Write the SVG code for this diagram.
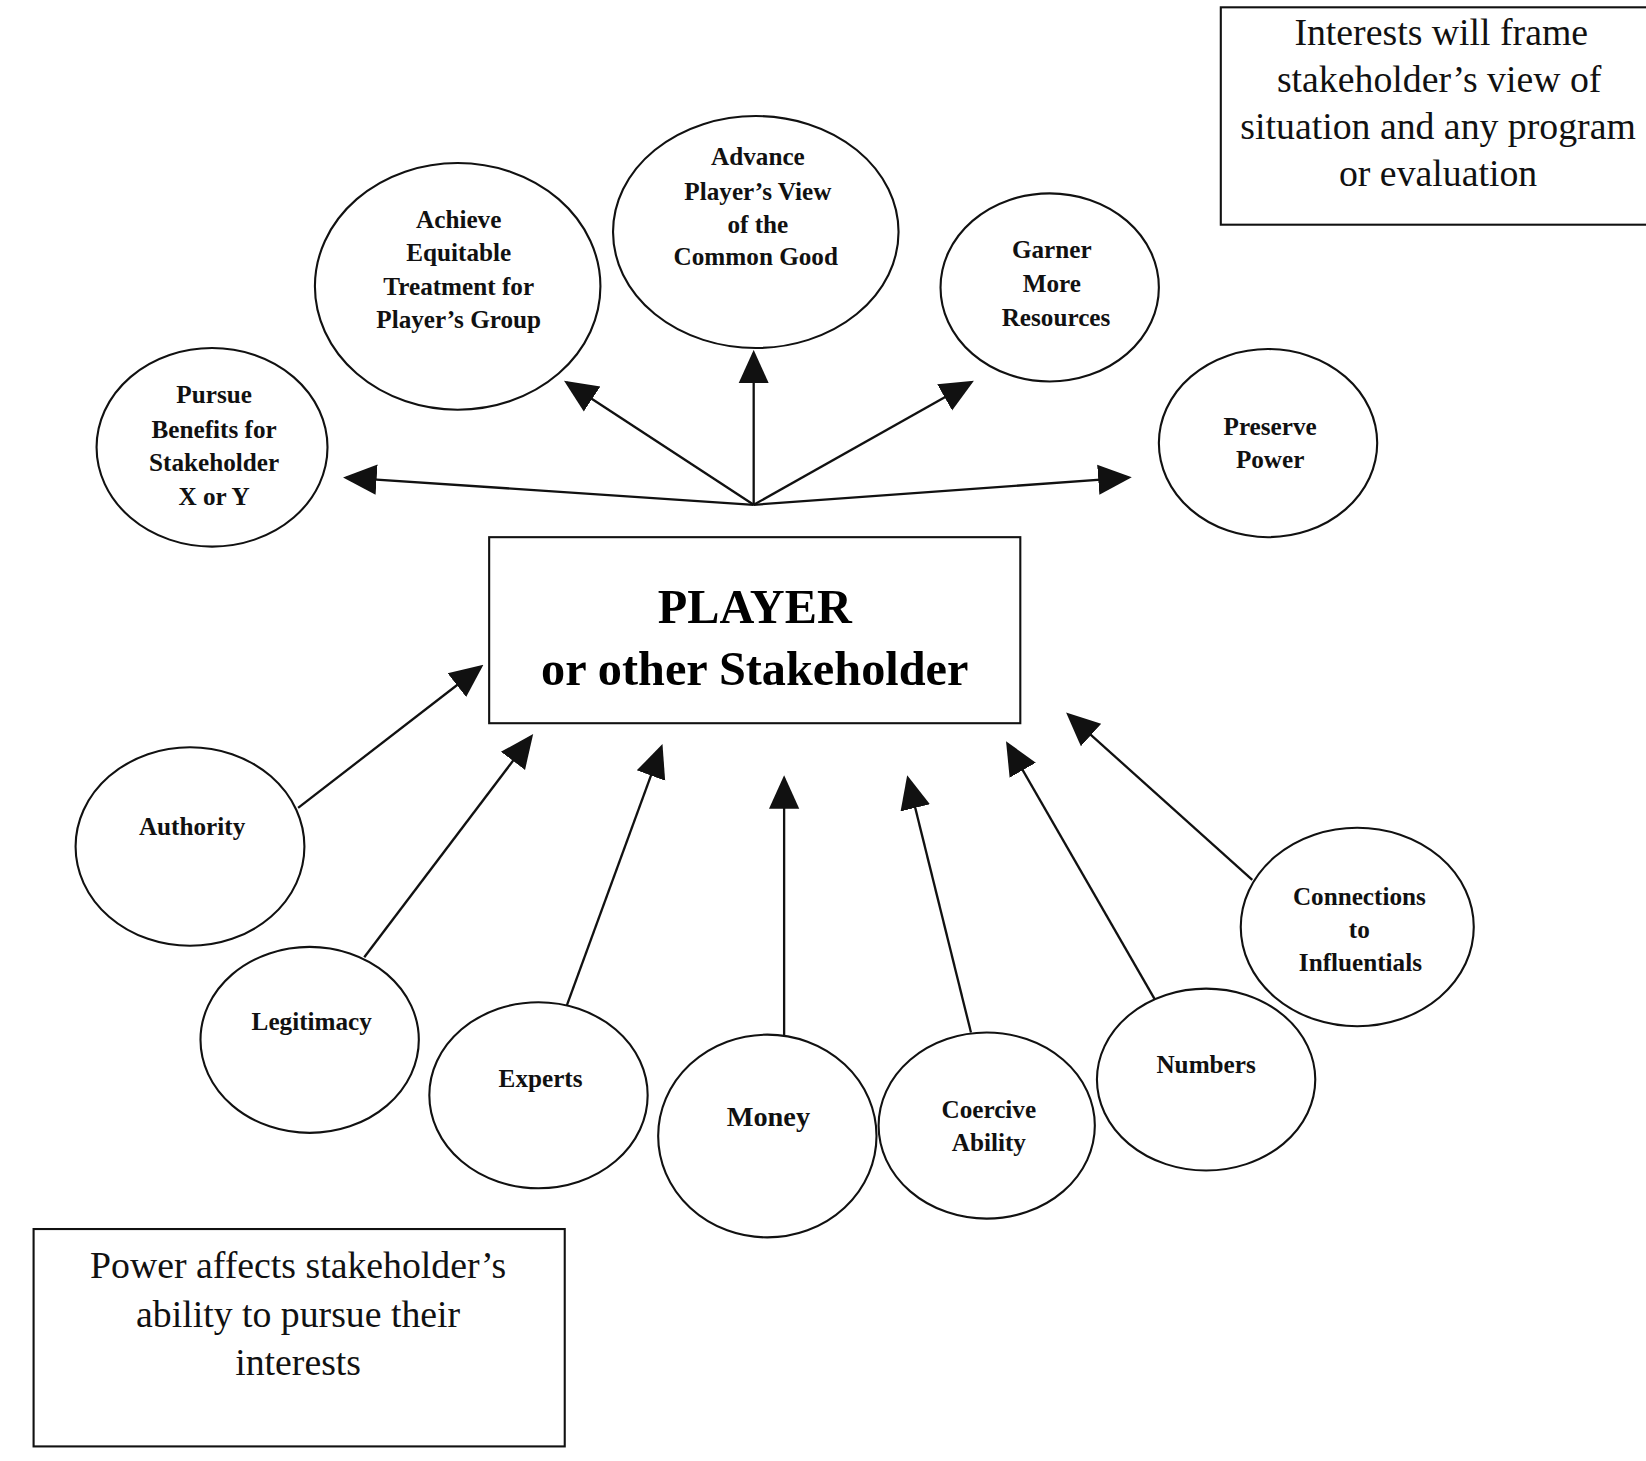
<svg xmlns="http://www.w3.org/2000/svg" width="1646" height="1461" viewBox="0 0 1646 1461">
<style>
.n{fill:#fff;stroke:#111;stroke-width:2}
.t{font-family:"Liberation Serif",serif;font-weight:bold;font-size:24px;fill:#111;text-anchor:middle}
.b{font-family:"Liberation Serif",serif;font-size:36px;fill:#111;text-anchor:middle}
.c line{stroke:#111;stroke-width:2.2}
</style>
<defs><marker id="a" viewBox="0 0 10 10" refX="9" refY="5" markerWidth="14" markerHeight="14" markerUnits="userSpaceOnUse" orient="auto"><path d="M0,0L10,5L0,10z" fill="#111"/></marker>
<marker id="h" viewBox="0 0 10 10" refX="9" refY="5" markerWidth="32" markerHeight="32" markerUnits="userSpaceOnUse" orient="auto"><path d="M0,0.5L10,5L0,9.5z" fill="#111"/></marker></defs>
<rect width="1646" height="1461" fill="#fff"/>
<g transform="scale(1.0497,1.0451)">
<g class="c" marker-end="url(#h)">
<line x1="718" y1="483" x2="330" y2="457" marker-end="url(#h)"/>
<line x1="718" y1="483" x2="540" y2="366" marker-end="url(#h)"/>
<line x1="718" y1="483" x2="718" y2="338" marker-end="url(#h)"/>
<line x1="718" y1="483" x2="925" y2="366" marker-end="url(#h)"/>
<line x1="718" y1="483" x2="1075" y2="457" marker-end="url(#h)"/>
<line x1="284" y1="773" x2="458" y2="638" marker-end="url(#h)"/>
<line x1="347" y1="916" x2="506" y2="705" marker-end="url(#h)"/>
<line x1="540" y1="962" x2="630" y2="715" marker-end="url(#h)"/>
<line x1="747" y1="991" x2="747" y2="745" marker-end="url(#h)"/>
<line x1="925" y1="988" x2="865" y2="745" marker-end="url(#h)"/>
<line x1="1100" y1="956" x2="960" y2="712" marker-end="url(#h)"/>
<line x1="1193" y1="842" x2="1018" y2="684" marker-end="url(#h)"/>
</g>
<g id="pursue"><ellipse class="n" cx="202" cy="428" rx="110" ry="95"/><text class="t" x="204" y="386">Pursue</text><text class="t" x="204" y="419">Benefits for</text><text class="t" x="204" y="451">Stakeholder</text><text class="t" x="204" y="483">X or Y</text></g>
<g id="achieve"><ellipse class="n" cx="436" cy="274" rx="136" ry="118"/><text class="t" x="437" y="218">Achieve</text><text class="t" x="437" y="250">Equitable</text><text class="t" x="437" y="282">Treatment for</text><text class="t" x="437" y="314">Player’s Group</text></g>
<g id="advance"><ellipse class="n" cx="720" cy="222" rx="136" ry="111"/><text class="t" x="722" y="158">Advance</text><text class="t" x="722" y="191">Player’s View</text><text class="t" x="722" y="223">of the</text><text class="t" x="720" y="254">Common Good</text></g>
<g id="garner"><ellipse class="n" cx="1000" cy="275" rx="104" ry="90"/><text class="t" x="1002" y="247">Garner</text><text class="t" x="1002" y="279">More</text><text class="t" x="1006" y="312">Resources</text></g>
<g id="preserve"><ellipse class="n" cx="1208" cy="424" rx="104" ry="90"/><text class="t" x="1210" y="416">Preserve</text><text class="t" x="1210" y="448">Power</text></g>
<g id="player"><rect class="n" x="466" y="514" width="506" height="178"/><text x="719" y="596" style="font-family:'Liberation Serif',serif;font-weight:bold;font-size:46px;text-anchor:middle">PLAYER</text><text x="719" y="655" style="font-family:'Liberation Serif',serif;font-weight:bold;font-size:46px;text-anchor:middle">or other Stakeholder</text></g>
<g id="authority"><ellipse class="n" cx="181" cy="810" rx="109" ry="95"/><text class="t" x="183" y="799">Authority</text></g>
<g id="legitimacy"><ellipse class="n" cx="295" cy="995" rx="104" ry="89"/><text class="t" x="297" y="986">Legitimacy</text></g>
<g id="experts"><ellipse class="n" cx="513" cy="1048" rx="104" ry="89"/><text class="t" x="515" y="1040">Experts</text></g>
<g id="money"><ellipse class="n" cx="731" cy="1087" rx="104" ry="97"/><text class="t" x="732" y="1077" style="font-size:27px">Money</text></g>
<g id="coercive"><ellipse class="n" cx="940" cy="1077" rx="103" ry="89"/><text class="t" x="942" y="1070">Coercive</text><text class="t" x="942" y="1101">Ability</text></g>
<g id="numbers"><ellipse class="n" cx="1149" cy="1033" rx="104" ry="87"/><text class="t" x="1149" y="1027">Numbers</text></g>
<g id="connections"><ellipse class="n" cx="1293" cy="887" rx="111" ry="95"/><text class="t" x="1295" y="866">Connections</text><text class="t" x="1295" y="898">to</text><text class="t" x="1296" y="929">Influentials</text></g>
<g id="interests"><rect class="n" x="1163" y="7" width="420" height="208"/><text class="b" x="1373" y="43">Interests will frame</text><text class="b" x="1371" y="88">stakeholder’s view of</text><text class="b" x="1370" y="133">situation and any program</text><text class="b" x="1370" y="178">or evaluation</text></g>
<g id="power"><rect class="n" x="32" y="1176" width="506" height="208"/><text class="b" x="284" y="1223">Power affects stakeholder’s</text><text class="b" x="284" y="1270">ability to pursue their</text><text class="b" x="284" y="1316">interests</text></g>
</g>
</svg>
